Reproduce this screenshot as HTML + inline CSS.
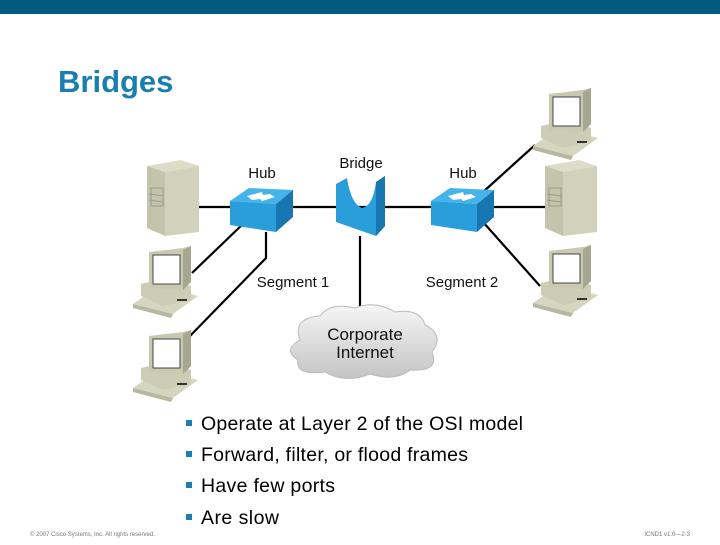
<!DOCTYPE html>
<html><head><style>
body{margin:0;width:720px;height:540px;overflow:hidden;background:#fff;font-family:"Liberation Sans",sans-serif}
</style></head><body>
<svg width="720" height="540" viewBox="0 0 720 540" xmlns="http://www.w3.org/2000/svg" style="font-family:'Liberation Sans',sans-serif">
<defs>
<linearGradient id="cl" x1="0" y1="0" x2="0" y2="1"><stop offset="0" stop-color="#f6f6f6"/><stop offset="1" stop-color="#c4c4c4"/></linearGradient>
<g id="hub">
<polygon points="0,15 19,2 63,4 46,18" fill="#45b4ea"/>
<polygon points="0,15 46,18 46,46 0,39" fill="#2a9edb"/>
<polygon points="46,18 63,4 63,31 46,46" fill="#1877b0"/>
<polygon points="17,10 32,6 33,9 40,8 45,11 32,15 30,13 22,14" fill="#fff"/>
</g>
<g id="pc">
<polygon points="0,58 26,40 65,50 40,68" fill="#d6d6c0"/>
<polygon points="0,58 40,68 38,72 0,62" fill="#b8b8a0"/>
<polygon points="8,38 34,32 58,40 58,54 30,60 8,50" fill="#cdcdb5"/>
<polygon points="16,6 50,2 58,0 58,36 50,44 16,42" fill="#c9c9b1"/>
<polygon points="50,4 58,0 58,36 50,44" fill="#a7a78f"/>
<rect x="20" y="9" width="27" height="29" fill="#fff" stroke="#444" stroke-width="1"/>
<rect x="44" y="53" width="10" height="2" fill="#333"/>
</g>
<g id="srv">
<polygon points="0,6 34,0 52,6 18,12" fill="#dcdcc8"/>
<polygon points="0,6 18,12 18,76 0,68" fill="#c4c4ac"/>
<polygon points="18,12 52,6 52,72 18,76" fill="#d2d2bc"/>
<rect x="4" y="28" width="12" height="18" fill="none" stroke="#9a9a88" stroke-width="1"/>
<line x1="2" y1="34" x2="16" y2="36" stroke="#9a9a88"/>
<line x1="2" y1="40" x2="16" y2="42" stroke="#9a9a88"/>
</g>
</defs>
<rect x="0" y="0" width="720" height="14" fill="#015a80"/>
<text x="58" y="92" font-size="31" font-weight="bold" fill="#1a7fb0">Bridges</text>
<g stroke="#000" stroke-width="2.2" fill="none">
<line x1="198" y1="207" x2="545" y2="207"/>
<line x1="245" y1="222" x2="192" y2="273"/>
<polyline points="266,232 266,258 190,336"/>
<line x1="360" y1="236" x2="360" y2="308"/>
<line x1="483" y1="192" x2="535" y2="145"/>
<line x1="483" y1="222" x2="540" y2="286"/>
</g>
<use href="#srv" x="147" y="160"/>
<use href="#pc" x="133" y="246"/>
<use href="#pc" x="133" y="330"/>
<use href="#pc" x="533" y="88"/>
<use href="#srv" x="545" y="160"/>
<use href="#pc" x="533" y="245"/>
<use href="#hub" x="230" y="186"/>
<use href="#hub" x="431" y="186"/>
<path d="M336,184 L347,178 Q351,204 362,208 Q373,206 376,182 L385,176 L385,226 L376,236 L336,222 Z" fill="#2a9edb"/>
<path d="M376,182 L385,176 L385,226 L376,236 Z" fill="#1877b0"/>
<path d="M300,340 Q292,318 320,316 Q330,302 355,308 Q375,300 395,312 Q420,308 425,325 Q445,335 432,352 Q440,372 410,370 Q395,382 370,374 Q345,384 325,372 Q295,376 298,360 Q282,350 300,340 Z" fill="url(#cl)" stroke="#bbb"/>
<g font-size="15" fill="#111" text-anchor="middle">
<text x="262" y="178">Hub</text>
<text x="361" y="168">Bridge</text>
<text x="463" y="178">Hub</text>
<text x="293" y="287">Segment 1</text>
<text x="462" y="287">Segment 2</text>
<text x="365" y="340" font-size="17">Corporate</text>
<text x="365" y="358" font-size="17">Internet</text>
</g>
<g font-size="19.5" fill="#000">
<rect x="186" y="420" width="6" height="6" fill="#1a7fb0"/><text x="201" y="430" textLength="322">Operate at Layer 2 of the OSI model</text>
<rect x="186" y="451" width="6" height="6" fill="#1a7fb0"/><text x="201" y="461" textLength="267">Forward, filter, or flood frames</text>
<rect x="186" y="482" width="6" height="6" fill="#1a7fb0"/><text x="201" y="492" textLength="134">Have few ports</text>
<rect x="186" y="514" width="6" height="6" fill="#1a7fb0"/><text x="201" y="524" textLength="78">Are slow</text>
</g>
<text x="30" y="536" font-size="6" fill="#777">© 2007 Cisco Systems, Inc. All rights reserved.</text>
<text x="690" y="536" font-size="6" fill="#777" text-anchor="end">ICND1 v1.0—2-3</text>
</svg>
</body></html>
